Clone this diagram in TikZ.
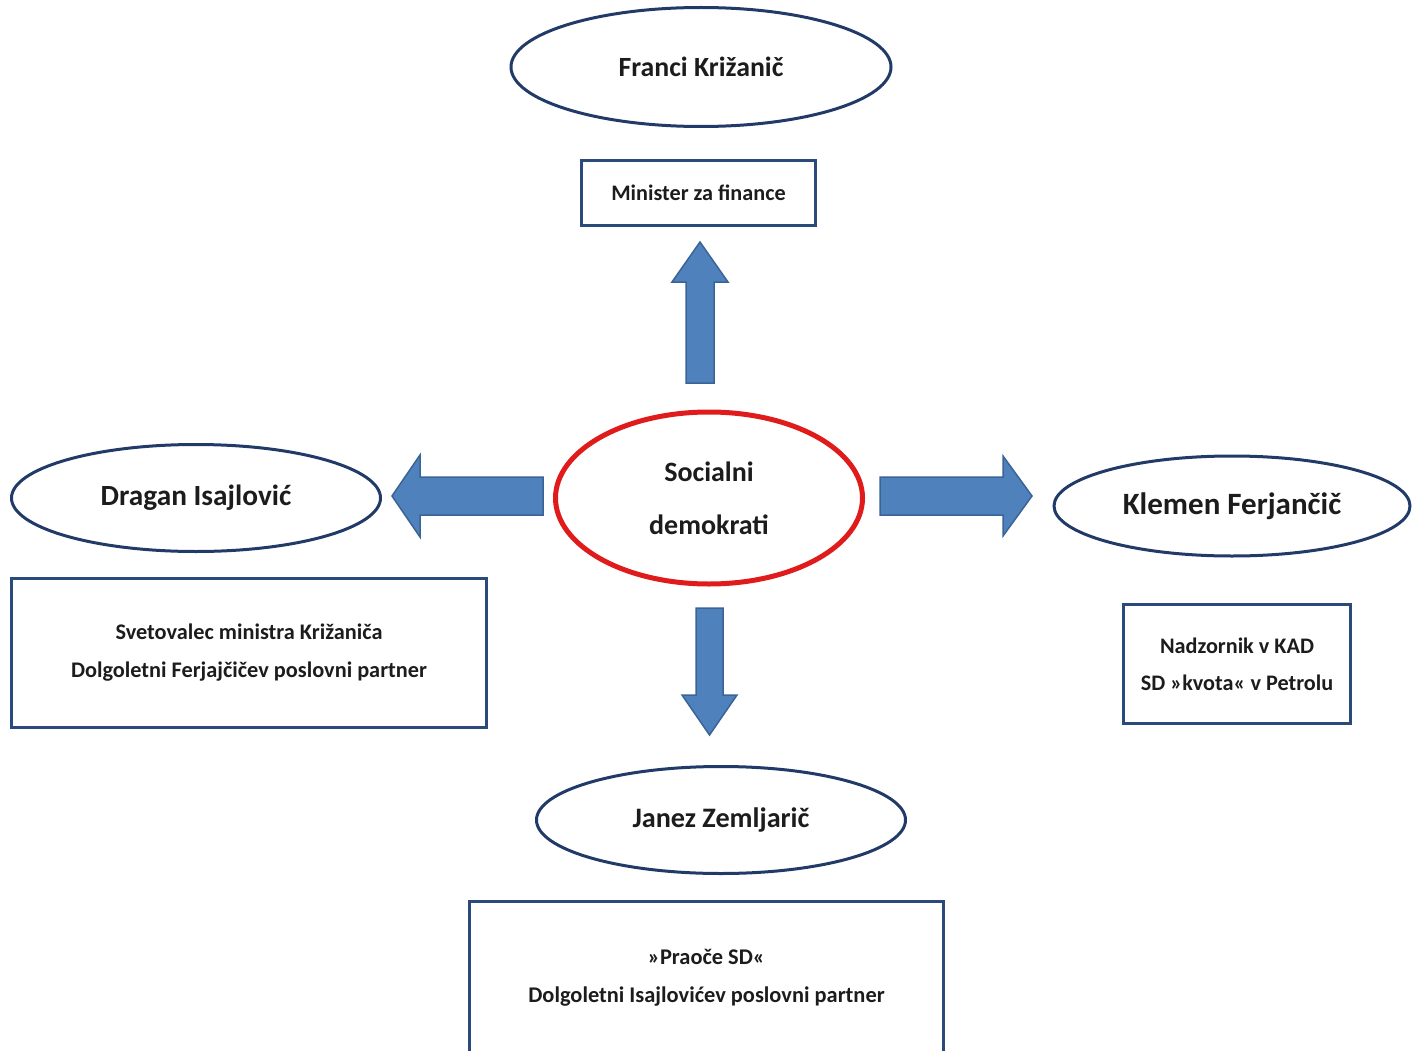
\documentclass[tikz,border=0pt]{standalone}
\usepackage{fontspec}
\setmainfont{Carlito}
\usepackage{tikz}
\usetikzlibrary{shapes.geometric,positioning}

\definecolor{navyline}{HTML}{213A68}
\definecolor{boxline}{HTML}{2B4A7C}
\definecolor{arrfill}{HTML}{4F81BD}
\definecolor{arrline}{HTML}{3A6496}
\definecolor{sdred}{HTML}{E01B1B}
\definecolor{txt}{HTML}{1C1C1C}

\tikzset{
  person/.style={ellipse, draw=navyline, line width=3pt, inner sep=0pt, text=txt},
  infobox/.style={draw=boxline, line width=3pt, inner sep=0pt, align=center, text=txt},
  blockarr/.style={fill=arrfill, draw=arrline, line width=1.5pt, line join=miter},
}

\begin{document}
\begin{tikzpicture}[x=1pt,y=-1pt]
      \useasboundingbox (0,0) rectangle (1421,1051);
      \clip (0,0) rectangle (1421,1051);

      \node[person, minimum width=380, minimum height=119, font=\bfseries\fontsize{27.8}{30}\selectfont] (franci) at (701,67) {Franci Križanič};
      \node[person, minimum width=369, minimum height=107, font=\bfseries\fontsize{29.3}{30}\selectfont] (dragan) at (196,498) {Dragan Isajlović};
      \node[person, minimum width=356, minimum height=100, font=\bfseries\fontsize{31}{33}\selectfont] (klemen) at (1232,506) {Klemen Ferjančič};
      \node[person, minimum width=369, minimum height=107, font=\bfseries\fontsize{28.2}{30}\selectfont] (janez) at (721,820) {Janez Zemljarič};
      \node[ellipse, draw=sdred, line width=5pt, inner sep=0pt, align=center, text=txt,
            minimum width=307, minimum height=172, font=\bfseries\fontsize{28}{53}\selectfont] (sd) at (709,498) {Socialni\\demokrati};

      \node[infobox, minimum width=234, minimum height=65, font=\bfseries\fontsize{22.2}{26}\selectfont] (minister) at (698.5,193) {Minister za finance};
      \node[infobox, minimum width=475, minimum height=149, font=\bfseries\fontsize{22.3}{38}\selectfont] (svetovalec) at (249,653)
        {Svetovalec ministra Križaniča\\Dolgoletni Ferjajčičev poslovni partner};
      \node[infobox, minimum width=227, minimum height=119, font=\bfseries\fontsize{22.2}{37}\selectfont] (nadzornik) at (1237,664)
        {Nadzornik v KAD\\SD »kvota« v Petrolu};
      \node[infobox, minimum width=474, minimum height=153, font=\bfseries\fontsize{22.4}{38}\selectfont] (praoce) at (706.5,978)
        {»Praoče SD«\\Dolgoletni Isajlovićev poslovni partner};

      \draw[blockarr] (686,383) -- (686,282) -- (672,282) -- (700,242) -- (728,282) -- (714,282) -- (714,383) -- cycle;
      \draw[blockarr] (696,608) -- (723,608) -- (723,695) -- (737,695) -- (709.5,735) -- (682,695) -- (696,695) -- cycle;
      \draw[blockarr] (543,477) -- (420,477) -- (420,455) -- (392,496) -- (420,537) -- (420,515) -- (543,515) -- cycle;
      \draw[blockarr] (880,477) -- (1003,477) -- (1003,456) -- (1032,496) -- (1003,536) -- (1003,515) -- (880,515) -- cycle;
\end{tikzpicture}
\end{document}
